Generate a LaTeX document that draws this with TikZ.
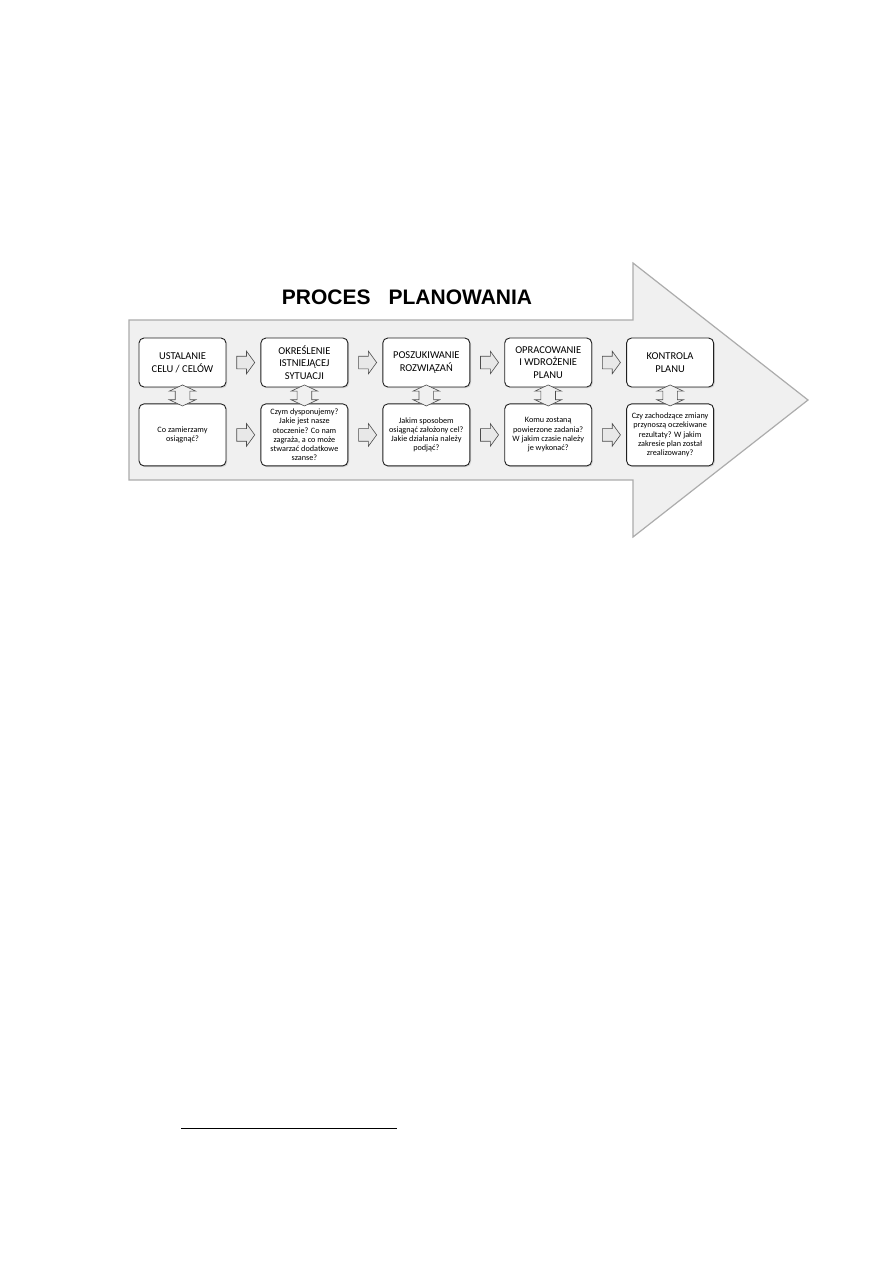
\documentclass[tikz,border=0pt]{standalone}
\usepackage{fontspec}
\setmainfont{Carlito}
\newfontfamily\titlefont{Liberation Sans}
\usetikzlibrary{shapes.arrows,positioning,calc,shadows}
\tikzset{
  stepbox/.style={
    rectangle, rounded corners=5pt, draw=gray!25!black,
    fill=white, line width=0.9pt, minimum width=87pt, minimum height=49pt,
    inner sep=1pt, align=center, font=\fontsize{10.5}{12.7}\selectfont,
    drop shadow={opacity=0.25, shadow xshift=1.2pt, shadow yshift=-1.2pt}
  },
  qbox/.style={
    rectangle, rounded corners=5pt, draw=gray!25!black,
    fill=white, line width=0.9pt, minimum width=87pt, minimum height=62pt,
    inner sep=1pt, align=center, font=\fontsize{8.2}{9.3}\selectfont,
    drop shadow={opacity=0.25, shadow xshift=1.2pt, shadow yshift=-1.2pt}
  },
  sarr/.style={
    single arrow, draw=gray!60!black, fill=gray!18, line width=0.6pt,
    minimum height=18pt, inner xsep=0pt, inner ysep=6pt,
    single arrow head extend=5pt, single arrow tip angle=108
  },
  darr/.style={
    double arrow, rotate=90, draw=gray!60!black, fill=gray!12, line width=0.6pt,
    minimum height=21pt, inner xsep=0pt, inner ysep=7pt,
    double arrow head extend=6pt, double arrow tip angle=130
  },
  bigarrow/.style={draw=gray!65, fill=gray!12, line width=1.2pt, line join=miter}
}

\begin{document}
\begin{tikzpicture}[x=1pt, y=-1pt]
  \useasboundingbox[fill=white] (0,0) rectangle (893,1263);

  % big arrow in the background
  \draw[bigarrow] (129,320) -- (633,320) -- (633,263) -- (808,400)
    -- (633,537) -- (633,480) -- (129,480) -- cycle;

  \node[font=\titlefont\bfseries\fontsize{21}{24}\selectfont] (title) at (407,297)
    {PROCES\hspace{18pt}PLANOWANIA};

  % steps
  \node[stepbox] (s1) at (182.5,362.5) {USTALANIE\\CELU / CELÓW};
  \node[stepbox, right=34pt of s1] (s2) {OKREŚLENIE\\ISTNIEJĄCEJ\\SYTUACJI};
  \node[stepbox, right=34pt of s2] (s3) {POSZUKIWANIE\\ROZWIĄZAŃ};
  \node[stepbox, right=34pt of s3] (s4) {OPRACOWANIE\\I WDROŻENIE\\PLANU};
  \node[stepbox, right=34pt of s4] (s5) {KONTROLA\\PLANU};

  % questions
  \node[qbox, below=16pt of s1] (q1) {Co zamierzamy\\osiągnąć?};
  \node[qbox, below=16pt of s2] (q2)
    {Czym dysponujemy?\\Jakie jest nasze\\otoczenie? Co nam\\zagraża, a co może\\stwarzać dodatkowe\\szanse?};
  \node[qbox, below=16pt of s3] (q3)
    {Jakim sposobem\\osiągnąć założony cel?\\Jakie działania należy\\podjąć?};
  \node[qbox, below=16pt of s4] (q4)
    {Komu zostaną\\powierzone zadania?\\W jakim czasie należy\\je wykonać?};
  \node[qbox, below=16pt of s5] (q5)
    {Czy zachodzące zmiany\\przynoszą oczekiwane\\rezultaty? W jakim\\zakresie plan został\\zrealizowany?};

  % small arrows
  \foreach \a/\b in {1/2,2/3,3/4,4/5}{
    \node[sarr] (ts\a) at ($(s\a.east)!0.5!(s\b.west)$) {};
    \node[sarr] (tq\a) at ($(q\a.east)!0.5!(q\b.west)$) {};
  }
  \foreach \i in {1,...,5}
    \node[darr] (d\i) at ($(s\i.south)!0.5!(q\i.north)$) {};

  \draw[line width=0.8pt] (181,1128) -- (397,1128);
\end{tikzpicture}
\end{document}
